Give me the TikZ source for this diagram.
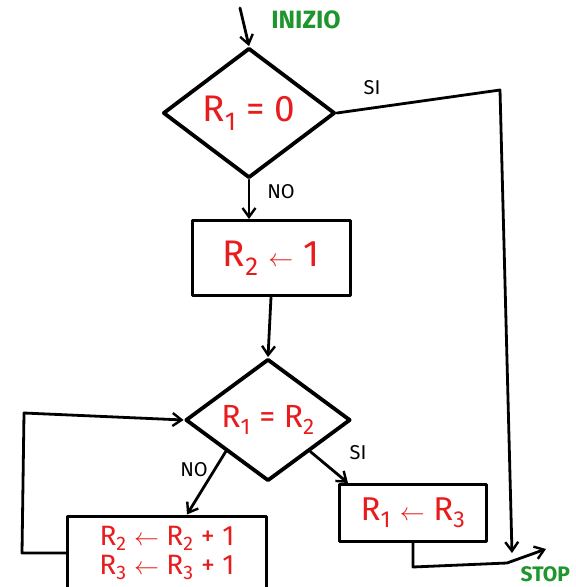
\documentclass[tikz,border=0pt]{standalone}
\usepackage{fontspec}
\setmainfont{Fira Sans}
\usetikzlibrary{shapes.geometric,arrows.meta}
\definecolor{penred}{RGB}{232,28,28}
\definecolor{pengreen}{RGB}{30,150,45}
\begin{document}
\begin{tikzpicture}[x=1pt,y=-1pt,
  line width=2.8pt, line cap=round, line join=round,
  tip/.style={-{Straight Barb[length=9pt,width=13pt,line width=2.4pt]}},
  dia/.style={draw, shape=diamond, inner sep=0pt, line width=3.8pt},
  box/.style={draw, rectangle, inner sep=0pt, line width=3pt},
  redtext/.style={text=penred, font=\fontsize{37}{40}\selectfont},
  lbl/.style={font=\fontsize{20}{22}\selectfont},
  greenlbl/.style={text=pengreen, font=\fontsize{25}{27}\selectfont\bfseries}
]
\useasboundingbox (0,0) rectangle (576,587);
\fill[white] (0,0) rectangle (576,587);

% shapes
\node[dia, shape aspect=1.32, minimum width=172pt, minimum height=130pt, redtext] (d1) at (249,113) {R\textsubscript{1} = 0};
\node[box, minimum width=158pt, minimum height=75pt, redtext] (r1) at (271,258) {R\textsubscript{2} $\leftarrow$ 1};
\node[dia, shape aspect=1.35, minimum width=165pt, minimum height=122pt, redtext, font=\fontsize{32}{36}\selectfont] (d2) at (268,420) {R\textsubscript{1} = R\textsubscript{2}};
\node[box, minimum width=147pt, minimum height=57pt, redtext, font=\fontsize{33}{36}\selectfont] (r4) at (413,513) {R\textsubscript{1} $\leftarrow$ R\textsubscript{3}};
\node[box, minimum width=199pt, minimum height=74pt, redtext, align=center, font=\fontsize{28}{29}\selectfont] (r3) at (167,553) {R\textsubscript{2} $\leftarrow$ R\textsubscript{2} + 1\\R\textsubscript{3} $\leftarrow$ R\textsubscript{3} + 1};

% labels
\node[greenlbl] (start) at (306,20) {INIZIO};
\node[lbl] (si1) at (372,88) {SI};
\node[lbl] (no1) at (281,192) {NO};
\node[lbl] (no2) at (194,470) {NO};
\node[lbl] (si2) at (358,453) {SI};
\node[greenlbl, anchor=west, font=\fontsize{21}{23}\selectfont\bfseries] (stop) at (516,574) {STOP};

% connectors
\coordinate (in) at (240,8);
\draw[tip] (in) -- (d1.north);
\draw[tip] (d1.south) -- (d1.south |- r1.north);
\draw[tip] (r1.south) -- (d2.north);
\coordinate (c1) at (500,90);
\coordinate (c2) at (512,553);
\draw[tip] (d1.east) -- (c1) -- (c2);
\draw[tip] (d2.south west) -- ([xshift=20pt]r3.north);
\draw[tip] (d2.south east) -- ([xshift=10pt]r4.north west);
\coordinate (l1) at (22,553);
\coordinate (l2) at (24,413);
\draw[tip] (r3.west) -- (l1) -- (l2) -- (d2.west);
\coordinate (e1) at (413,567);
\coordinate (e2) at (507,563);
\coordinate (e3) at (546,549);
\draw[tip] (r4.south) -- (e1) -- (e2) -- (e3);
\end{tikzpicture}
\end{document}
